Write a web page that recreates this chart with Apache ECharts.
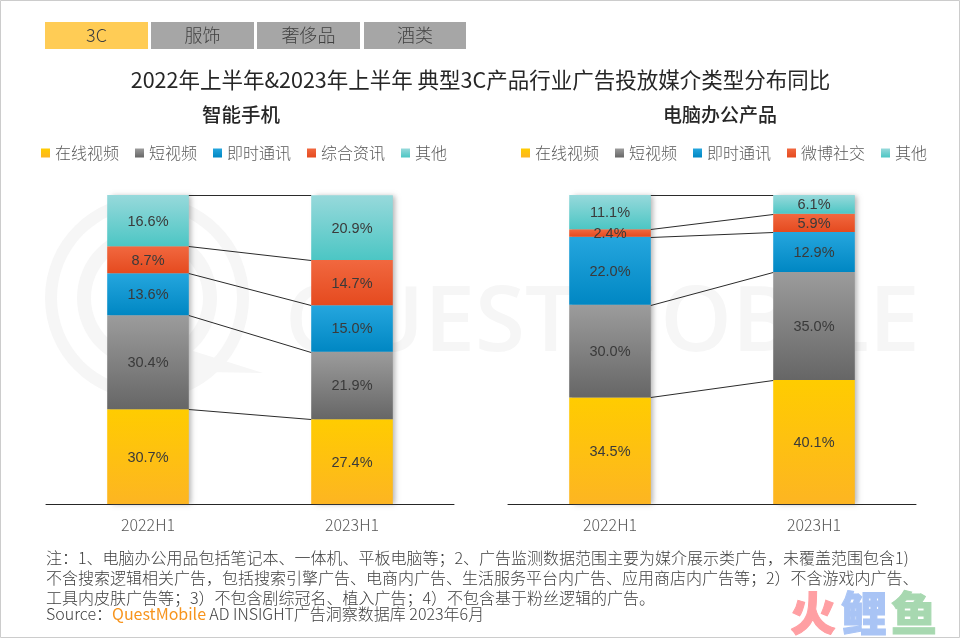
<!DOCTYPE html>
<html><head><meta charset="utf-8">
<style>html,body{margin:0;padding:0;background:#fff}#c{width:960px;height:638px}</style>
<script src="https://cdn.jsdelivr.net/npm/echarts@6/dist/echarts.min.js"></script>
</head><body><div id="c"></div>
<script>
const periods = ['2022H1','2023H1'];
const phoneNames = ['在线视频','短视频','即时通讯','综合资讯','其他'];
const pcNames = ['在线视频','短视频','即时通讯','微博社交','其他'];
const phone2022 = [30.7,30.4,13.6,8.7,16.6];
const phone2023 = [27.4,21.9,15.0,14.7,20.9];
const pc2022 = [34.5,30.0,22.0,2.4,11.1];
const pc2023 = [40.1,35.0,12.9,5.9,6.1];
const tabNames = ['3C','服饰','奢侈品','酒类'];
const mainTitle = '2022年上半年&2023年上半年 典型3C产品行业广告投放媒介类型分布同比';
const noteLines = [
 '注：1、电脑办公用品包括笔记本、一体机、平板电脑等；2、广告监测数据范围主要为媒介展示类广告，未覆盖范围包含1)',
 '不含搜索逻辑相关广告，包括搜索引擎广告、电商内广告、生活服务平台内广告、应用商店内广告等；2）不含游戏内广告、',
 '工具内皮肤广告等；3）不包含剧综冠名、植入广告；4）不包含基于粉丝逻辑的广告。'
];
const CJK = '"Noto Sans CJK SC","Noto Sans",sans-serif';
const gradients = [['#FFCC00','#FDB522'],['#9C9C9C','#666666'],['#25A6DE','#0087C3'],['#F1683F','#E54A1F'],['#97D9DB','#4CC6C4']];
const grad = c => new echarts.graphic.LinearGradient(0,0,0,1,[{offset:0,color:c[0]},{offset:1,color:c[1]}]);

function cum(a){let s=0;return a.map(v=>s+=v);}
function barSeries(names,a,b,idx){
  return names.map((n,i)=>({
    name:n,type:'bar',stack:'s'+idx,xAxisIndex:idx,yAxisIndex:idx,barWidth:'40%',z:3,
    itemStyle:{color:grad(gradients[i])},
    label:{show:true,position:'inside',offset:[0,1],fontFamily:'"Liberation Sans",Arial,sans-serif',fontSize:14.5,color:'#3a3a3a',
      formatter:p=>p.value.toFixed(1)+'%'},
    data:[a[i],b[i]]
  }));
}
function shadowSeries(a,b,idx){
  const top=[cum(a)[4],cum(b)[4]];
  return {type:'custom',xAxisIndex:idx,yAxisIndex:idx,z:2,silent:true,
    data:periods.map((p,i)=>[i,top[i]]),
    renderItem:(params,api)=>{
      const w=api.size([1,0])[0]*0.4;
      const t=api.coord([api.value(0),api.value(1)]);
      const o=api.coord([api.value(0),0]);
      return {type:'rect',shape:{x:t[0]-w/2+3,y:t[1]+1,width:w-3,height:o[1]-t[1]-1},
        style:{fill:'#c4c4c4',shadowColor:'rgba(110,110,110,0.5)',shadowBlur:5,shadowOffsetX:2}};
    }};
}
function linkSeries(a,b,idx){
  const ca=cum(a),cb=cum(b);
  return {type:'custom',xAxisIndex:idx,yAxisIndex:idx,z:4,silent:true,
    data:ca.map((v,i)=>[v,cb[i]]),
    renderItem:(params,api)=>{
      const w=api.size([1,0])[0]*0.4;
      const s=api.coord([0,api.value(0)]);
      const e=api.coord([1,api.value(1)]);
      return {type:'line',shape:{x1:s[0]+w/2,y1:Math.round(s[1])+0.5,x2:e[0]-w/2,y2:Math.round(e[1])+0.5},
        style:{stroke:'#2b2b2b',lineWidth:1}};
    }};
}
const tabX=[45,151,257,364], tabW=[103,103,103,102];
const tabs=[];
tabNames.forEach((t,i)=>{
  tabs.push({type:'rect',z:1,shape:{x:tabX[i],y:22,width:tabW[i],height:27},style:{fill:i===0?'#FFCC55':'#A6A6A6'}});
  tabs.push({type:'text',z:2,x:tabX[i]+tabW[i]/2,y:35.5,style:{text:t,align:'center',verticalAlign:'middle',font:'300 18px '+CJK,fill:'#404040'}});
});
const wm='#F6F6F6';
const watermark=[
 {type:'ring',z:0,shape:{cx:147,cy:298,r:102,r0:90},style:{fill:wm}},
 {type:'ring',z:0,shape:{cx:147,cy:298,r:70,r0:56},style:{fill:wm}},
 {type:'polygon',z:0,shape:{points:[[190,350],[263,373],[205,372],[165,395]]},style:{fill:wm}},
 {type:'text',z:0,x:285,y:325,style:{text:'QUESTMOBILE',align:'left',verticalAlign:'middle',font:'600 91px "Open Sans",sans-serif',fill:wm}}
];
const brand=[
 {t:'火',x:813,c:'#FF9FA3'},{t:'鲤',x:864,c:'#A9C4F5'},{t:'鱼',x:914,c:'#A7D8B0'}
].map(o=>({type:'text',z:1,x:o.x,y:613,style:{text:o.t,align:'center',verticalAlign:'middle',font:'900 46px '+CJK,fill:o.c,stroke:o.c,lineWidth:1}}));
const notes=noteLines.map((l,i)=>({type:'text',z:5,x:46,y:[557.5,578,598][i],style:{text:l,align:'left',verticalAlign:'middle',font:'300 16px '+CJK,fill:'#404040'}}));
const source={type:'text',z:5,x:46,y:614,style:{align:'left',verticalAlign:'middle',
  text:'{a|Source：}{b|QuestMobile} {a|AD INSIGHT广告洞察数据库 2023年6月}',
  rich:{a:{font:'300 16px '+CJK,fill:'#404040'},b:{font:'400 16px '+CJK,fill:'#F7941D'}}}};
const border={type:'rect',z:6,shape:{x:0.5,y:0.5,width:959,height:637},style:{fill:'none',stroke:'#CCCCCC',lineWidth:1}};

const axisX=i=>({type:'category',gridIndex:i,data:periods,axisTick:{show:false},
  axisLine:{lineStyle:{color:'#262626',width:1}},
  axisLabel:{margin:13,fontFamily:CJK,fontWeight:300,fontSize:16,color:'#595959'}});
const axisY=i=>({type:'value',gridIndex:i,min:0,max:100,show:false,splitLine:{show:false}});
const legend=(names,left)=>({data:names.map(n=>({name:n,icon:'rect'})),left,top:140,itemWidth:9,itemHeight:9,itemGap:16,
  selectedMode:false,textStyle:{fontFamily:CJK,fontWeight:300,fontSize:16,color:'#595959'}});

const chart=echarts.init(document.getElementById('c'),null,{renderer:'canvas'});
chart.setOption({
  animation:false,backgroundColor:'#fff',
  title:[
    {text:mainTitle,left:475.5,top:64,textAlign:'center',textStyle:{fontFamily:CJK,fontWeight:400,fontSize:21.5,color:'#262626'}},
    {text:'智能手机',left:236,top:100,textAlign:'center',textStyle:{fontFamily:CJK,fontWeight:500,fontSize:19.5,color:'#262626'}},
    {text:'电脑办公产品',left:715,top:100,textAlign:'center',textStyle:{fontFamily:CJK,fontWeight:500,fontSize:19,color:'#262626'}}
  ],
  legend:[legend(phoneNames,36),legend(pcNames,516)],
  grid:[{left:46,width:408,top:195,height:309},{left:508,width:408,top:195,height:309}],
  xAxis:[axisX(0),axisX(1)],yAxis:[axisY(0),axisY(1)],
  series:[
    shadowSeries(phone2022,phone2023,0),shadowSeries(pc2022,pc2023,1),
    ...barSeries(phoneNames,phone2022,phone2023,0),
    ...barSeries(pcNames,pc2022,pc2023,1),
    linkSeries(phone2022,phone2023,0),linkSeries(pc2022,pc2023,1)
  ],
  graphic:[...watermark,...tabs,...brand,...notes,source,border]
});
</script></body></html>
